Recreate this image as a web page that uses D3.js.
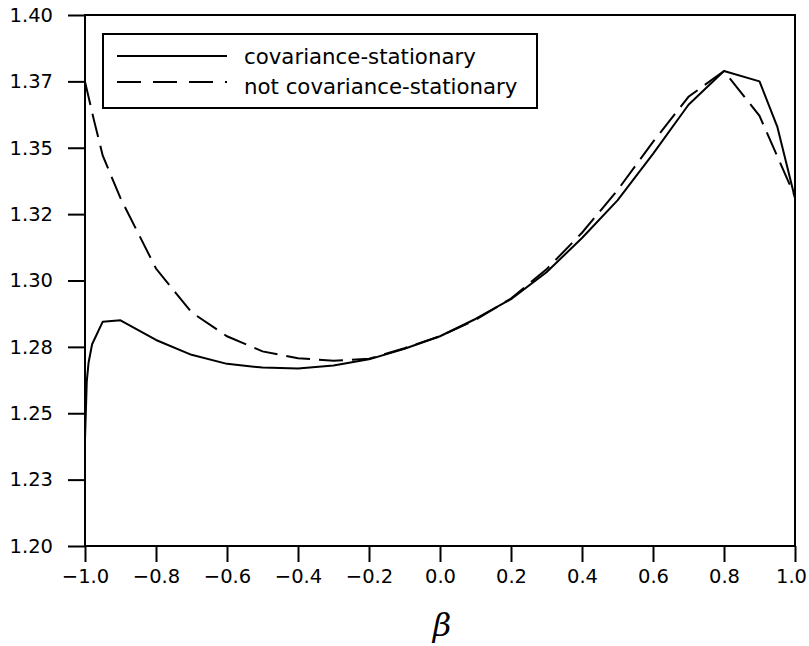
<!DOCTYPE html>
<html>
<head>
<meta charset="utf-8">
<script src="https://cdn.jsdelivr.net/npm/d3@7"></script>
<style>
	body { margin: 0; background: #fff; }
	.tickLabel text { font-family: "DejaVu Sans", sans-serif; font-size: 19.5px; fill: #000; }
	.legendText { font-family: "DejaVu Sans", sans-serif; font-size: 21.3px; fill: #000; }
</style>
</head>
<body>
<div id="chart"></div>
<script>
// values
const betaSolid = [-1.0, -0.995, -0.99, -0.98, -0.95, -0.9, -0.8, -0.7, -0.6, -0.5, -0.4, -0.3, -0.2, -0.1, 0.0, 0.1, 0.2, 0.3, 0.4, 0.5, 0.6, 0.7, 0.8, 0.9, 0.95, 1.0];
const valuesSolid = [1.240, 1.262, 1.269, 1.276, 1.2845, 1.285, 1.2776, 1.2720, 1.2686, 1.2672, 1.2669, 1.2680, 1.2703, 1.2743, 1.2790, 1.2855, 1.2930, 1.3031, 1.3160, 1.3302, 1.3477, 1.3662, 1.3789, 1.3750, 1.3580, 1.3310];

const betaDashed = [-1.0, -0.975, -0.95, -0.9, -0.8, -0.7, -0.6, -0.5, -0.4, -0.3, -0.2, -0.1, 0.0, 0.1, 0.2, 0.3, 0.4, 0.5, 0.6, 0.7, 0.8, 0.9, 1.0];
const valuesDashed = [1.3749, 1.3605, 1.3470, 1.3310, 1.3045, 1.2880, 1.2790, 1.2733, 1.2707, 1.2698, 1.2705, 1.2745, 1.2790, 1.2852, 1.2932, 1.3042, 1.3180, 1.3340, 1.3522, 1.3692, 1.3789, 1.3620, 1.3316];

const xTicks = [-1.0, -0.8, -0.6, -0.4, -0.2, 0.0, 0.2, 0.4, 0.6, 0.8, 1.0];
const xTickLabels = ["\u22121.0", "\u22120.8", "\u22120.6", "\u22120.4", "\u22120.2", "0.0", "0.2", "0.4", "0.6", "0.8", "1.0"];
const yTicks = [1.2, 1.225, 1.25, 1.275, 1.3, 1.325, 1.35, 1.375, 1.4];
const yTickLabels = ["1.20", "1.23", "1.25", "1.28", "1.30", "1.32", "1.35", "1.37", "1.40"];

const seriesNames = ["covariance-stationary", "not covariance-stationary"];

//Initialize the dimensions for the graph
let margin = {
	top: 15,
	right: 14,
	bottom: 100,
	left: 85
},
width = 809 - margin.left - margin.right,
height = 646 - margin.top - margin.bottom;

let svg = d3.select("#chart")
	.append("svg")
	.attr("width", width + margin.left + margin.right)
	.attr("height", height + margin.top + margin.bottom)
	.append("g")
	.attr("transform", "translate(" + margin.left + "," + margin.top + ")");

let x = d3.scaleLinear()
	.domain([-1, 1])
	.range([0, width]);

let y = d3.scaleLinear()
	.domain([1.2, 1.4])
	.range([height, 0]);

// axes
svg.append("g")
.attr("class", "tickLabel")
.attr("transform", "translate(0," + height + ")")
.call(d3.axisBottom(x)
	.tickValues(xTicks)
	.tickSize(16)
	.tickPadding(7)
	.tickFormat(function (d, i) {
		return xTickLabels[i];
	}))
.call(function (g) {
	g.select(".domain").remove();
	g.selectAll("line").attr("stroke-width", 2);
	// keep the last label inside the page
	g.selectAll("text").attr("dx", function (d, i) {
		return i === xTicks.length - 1 ? -4 : 0;
	});
});

svg.append("g")
.attr("class", "tickLabel")
.call(d3.axisLeft(y)
	.tickValues(yTicks)
	.tickSize(17)
	.tickPadding(15)
	.tickFormat(function (d, i) {
		return yTickLabels[i];
	}))
.call(function (g) {
	g.select(".domain").remove();
	g.selectAll("line").attr("stroke-width", 2);
});

// frame
svg.append("rect")
.attr("x", 0)
.attr("y", 0)
.attr("width", width)
.attr("height", height)
.attr("fill", "none")
.attr("stroke", "#000")
.attr("stroke-width", 2);

let line = d3.line()
	.x(function (d) { return x(d[0]); })
	.y(function (d) { return y(d[1]); });

let solidData = betaSolid.map(function (b, i) { return [b, valuesSolid[i]]; });
let dashedData = betaDashed.map(function (b, i) { return [b, valuesDashed[i]]; });

svg.append("path")
.datum(dashedData)
.attr("d", line)
.attr("fill", "none")
.attr("stroke", "#000")
.attr("stroke-width", 2)
.attr("stroke-dasharray", "24,9");

svg.append("path")
.datum(solidData)
.attr("d", line)
.attr("fill", "none")
.attr("stroke", "#000")
.attr("stroke-width", 2)
.attr("stroke-linejoin", "round");

// legend
let legend = svg.append("g")
	.attr("transform", "translate(" + (103 - margin.left) + "," + (34 - margin.top) + ")");

legend.append("rect")
.attr("width", 434)
.attr("height", 74)
.attr("fill", "#fff")
.attr("stroke", "#000")
.attr("stroke-width", 2);

legend.selectAll(".legendLine")
.data(seriesNames)
.enter()
.append("line")
.attr("x1", 14)
.attr("x2", 124)
.attr("y1", function (d, i) { return 22 + i * 26; })
.attr("y2", function (d, i) { return 22 + i * 26; })
.attr("stroke", "#000")
.attr("stroke-width", 2)
.attr("stroke-dasharray", function (d, i) { return i === 0 ? null : "24,12"; });

legend.selectAll(".legendText")
.data(seriesNames)
.enter()
.append("text")
.attr("class", "legendText")
.attr("x", 141)
.attr("y", function (d, i) { return 30 + i * 30; })
.text(function (d) { return d; });

// x axis title
svg.append("text")
.attr("x", x(0) + 2)
.attr("y", height + 90)
.attr("text-anchor", "middle")
.style("font-family", "'DejaVu Serif', serif")
.style("font-style", "italic")
.style("font-size", "32px")
.text("\u03b2");
</script>
</body>
</html>
